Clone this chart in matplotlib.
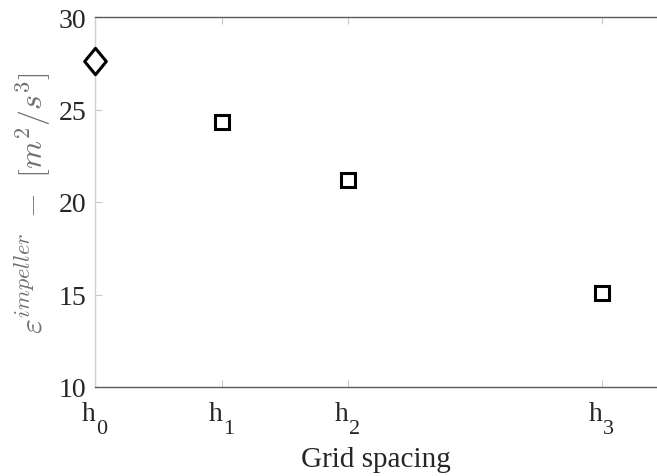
import numpy as np
import matplotlib
matplotlib.use('Agg')
from matplotlib import pyplot as plt
from matplotlib.path import Path

# dissipation in the impeller region vs. mesh refinement
grid_pos = [0, 1, 2, 4]
grid_subs = ['0', '1', '2', '3']
ref_pos = [0]
ref_eps = [27.6]
mesh_pos = [1, 2, 4]
mesh_eps = [24.3, 21.2, 15.1]

plt.rcParams['font.family'] = ['Liberation Serif', 'DejaVu Serif']
plt.rcParams['font.size'] = 20

# matlab style diamond (a bit wider than matplotlib's thin one)
diamond = Path([(0, 1), (0.82, 0), (0, -1), (-0.82, 0), (0, 1)],
               [Path.MOVETO, Path.LINETO, Path.LINETO, Path.LINETO, Path.CLOSEPOLY])

fig = plt.figure(figsize=(6.57, 4.77), dpi=100)
ax = fig.add_axes([95 / 657, 1 - 388 / 477, 562 / 657, 370 / 477])

ax.plot(ref_pos, ref_eps, linestyle='none', marker=diamond, markersize=19,
        markerfacecolor='white', markeredgecolor='black', markeredgewidth=2.2,
        clip_on=False, zorder=5)
ax.plot(mesh_pos, mesh_eps, linestyle='none', marker='s', markersize=10,
        markerfacecolor='white', markeredgecolor='black', markeredgewidth=2.2,
        clip_on=False, zorder=5)

ax.set_xlim(0, 562 / 126.7)
ax.set_ylim(10, 30)
ax.set_xticks(grid_pos)
ax.set_xticklabels([])
ax.set_yticks([10, 15, 20, 25, 30])

# tick labels h with a low subscript, tex style
px = 0.72
for pos, sub in zip(grid_pos, grid_subs):
    ax.annotate('h', xy=(pos, 0), xycoords=('data', 'axes fraction'),
                xytext=(-6.5 * px, -33 * px), textcoords='offset points',
                ha='center', va='baseline', fontsize=20, color='#262626')
    ax.annotate(sub, xy=(pos, 0), xycoords=('data', 'axes fraction'),
                xytext=(6.5 * px, -46 * px), textcoords='offset points',
                ha='center', va='baseline', fontsize=16, color='#262626')

ax.spines['right'].set_visible(False)
for side in ['top', 'bottom']:
    ax.spines[side].set_color('#5a5a5a')
    ax.spines[side].set_linewidth(1.0)
ax.spines['left'].set_color('#d0d0d0')
ax.spines['left'].set_linewidth(1.0)
ax.tick_params(direction='in', length=5, width=0.8, color='#c8c8c8',
               labelcolor='#262626', labelsize=20, top=True)
ax.tick_params(axis='y', pad=6)

ax.set_xlabel('Grid spacing', fontsize=21, color='#262626', va='baseline')
ax.xaxis.set_label_coords(0.5, -(467 - 388) / 370)
ax.set_ylabel(r'$\varepsilon^{impeller}\ -\ [m^2/s^3]$', fontsize=23,
              color='#707070', math_fontfamily='cm', labelpad=4)

plt.savefig('out.png', dpi=100)
plt.close()
